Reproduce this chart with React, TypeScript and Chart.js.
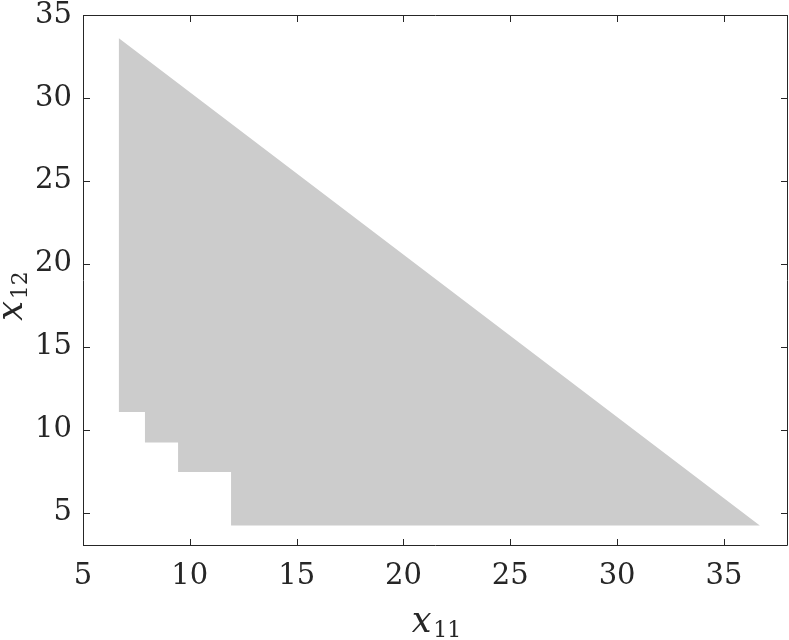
import React, { useEffect, useRef } from "react";
import { Chart, registerables } from "chart.js";

Chart.register(...registerables);

// Polygon of the feasible region (x11, x12), in drawing order
const regionX = [6.68, 36.68, 11.93, 11.93, 9.45, 9.45, 7.9, 7.9, 6.68, 6.68];
const regionY = [33.6, 4.24, 4.24, 7.46, 7.46, 9.23, 9.23, 11.08, 11.08, 33.6];

const xTicks = [5, 10, 15, 20, 25, 30, 35];
const yTicks = [5, 10, 15, 20, 25, 30, 35];
const xRange = [5, 38];
const yRange = [3, 35];

const xLabelMain = "x";
const xLabelSub = "11";
const yLabelMain = "x";
const yLabelSub = "12";

const TEXT = "#262626";
const FONT = "DejaVu Serif";

const boxPlugin = {
  id: "boxTicks",
  afterDraw(chart: any) {
    const { ctx, chartArea: ca, scales } = chart;
    const xs = scales.x;
    const ys = scales.y;
    ctx.save();
    ctx.strokeStyle = TEXT;
    ctx.lineWidth = 1;
    ctx.beginPath();
    ctx.rect(ca.left + 0.5, ca.top + 0.5, ca.right - ca.left - 1, ca.bottom - ca.top - 1);
    ctx.stroke();
    const tl = 7;
    ctx.beginPath();
    xTicks.forEach((v) => {
      const px = Math.round(xs.getPixelForValue(v)) + 0.5;
      ctx.moveTo(px, ca.bottom);
      ctx.lineTo(px, ca.bottom - tl);
      ctx.moveTo(px, ca.top);
      ctx.lineTo(px, ca.top + tl);
    });
    yTicks.forEach((v) => {
      const py = Math.round(ys.getPixelForValue(v)) + 0.5;
      ctx.moveTo(ca.left, py);
      ctx.lineTo(ca.left + tl, py);
      ctx.moveTo(ca.right, py);
      ctx.lineTo(ca.right - tl, py);
    });
    ctx.stroke();

    // axis titles
    ctx.fillStyle = TEXT;
    ctx.textBaseline = "alphabetic";
    ctx.textAlign = "left";
    const mainFont = `italic 35px "${FONT}"`;
    const subFont = `22px "${FONT}"`;
    ctx.font = mainFont;
    const xw = ctx.measureText(xLabelMain).width;
    ctx.font = subFont;
    const sw = ctx.measureText(xLabelSub).width;
    const totalX = xw + 2 + sw;
    const cx = (ca.left + ca.right) / 2;
    const xStart = cx - totalX / 2 + 1;
    ctx.font = mainFont;
    ctx.fillText(xLabelMain, xStart, 632);
    ctx.font = subFont;
    ctx.fillText(xLabelSub, xStart + xw + 2, 637);

    ctx.save();
    ctx.font = subFont;
    const sw2 = ctx.measureText(yLabelSub).width;
    const totalY = xw + 2 + sw2;
    const cy = 296;
    ctx.translate(22, cy + totalY / 2);
    ctx.rotate(-Math.PI / 2);
    ctx.font = mainFont;
    ctx.fillText(yLabelMain, 0, 0);
    ctx.font = subFont;
    ctx.fillText(yLabelSub, xw + 2, 5);
    ctx.restore();

    ctx.restore();
  },
};

export default function App() {
  const ref = useRef<HTMLCanvasElement>(null);
  useEffect(() => {
    document.body.style.margin = "0";
    const canvas = ref.current;
    if (!canvas) return;
    const data = regionX.map((x, i) => ({ x, y: regionY[i] }));
    const chart = new Chart(canvas, {
      type: "scatter",
      data: {
        datasets: [
          {
            data,
            showLine: true,
            fill: "shape",
            backgroundColor: "#cccccc",
            borderColor: "#cccccc",
            borderWidth: 0,
            pointRadius: 0,
            pointHoverRadius: 0,
            tension: 0,
          } as any,
        ],
      },
      options: {
        animation: false,
        responsive: false,
        devicePixelRatio: 1,
        layout: { padding: { top: 15, right: 1, left: 0, bottom: 0 } },
        plugins: { legend: { display: false }, tooltip: { enabled: false } },
        scales: {
          x: {
            type: "linear",
            min: xRange[0],
            max: xRange[1],
            grid: { display: false, drawTicks: false },
            border: { display: false },
            afterBuildTicks: (s: any) => {
              s.ticks = xTicks.map((v) => ({ value: v }));
            },
            afterFit: (s: any) => {
              s.height = 94;
              s.paddingLeft = 0;
              s.paddingRight = 0;
            },
            ticks: {
              color: TEXT,
              font: { family: FONT, size: 29 },
              padding: 13,
              maxRotation: 0,
              autoSkip: false,
            },
          },
          y: {
            type: "linear",
            min: yRange[0],
            max: yRange[1],
            grid: { display: false, drawTicks: false },
            border: { display: false },
            afterBuildTicks: (s: any) => {
              s.ticks = yTicks.map((v) => ({ value: v }));
            },
            afterFit: (s: any) => {
              s.width = 83;
              s.paddingTop = 0;
              s.paddingBottom = 0;
            },
            ticks: {
              color: TEXT,
              font: { family: FONT, size: 29 },
              padding: 11,
              autoSkip: false,
            },
          },
        },
      },
      plugins: [boxPlugin],
    });
    const redraw = () => {
      try {
        chart.update();
      } catch (e) {}
    };
    const t = setTimeout(redraw, 200);
    return () => {
      clearTimeout(t);
      chart.destroy();
    };
  }, []);
  return <canvas ref={ref} width={789} height={640} style={{ display: "block" }} />;
}
